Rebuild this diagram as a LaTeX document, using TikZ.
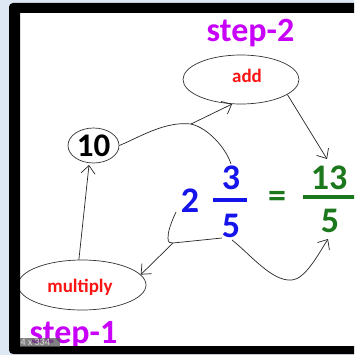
\documentclass[tikz,border=0pt]{standalone}
\usepackage{fontspec}
\setmainfont{Carlito}
\usetikzlibrary{shapes.geometric,arrows.meta}
\definecolor{bgblue}{RGB}{221,232,244}
\definecolor{stepcol}{RGB}{200,0,250}
\definecolor{numblue}{RGB}{20,20,235}
\definecolor{numgreen}{RGB}{28,120,28}
\definecolor{lblred}{RGB}{250,20,20}
\tikzset{
  oval/.style={ellipse, draw=black!80, line width=0.7pt, inner sep=0pt},
  steplbl/.style={text=stepcol, font=\bfseries\fontsize{34}{34}\selectfont, inner sep=0pt},
  lbl/.style={text=lblred, font=\bfseries\fontsize{19}{19}\selectfont, inner sep=0pt},
  bnum/.style={text=numblue, font=\bfseries\fontsize{36}{36}\selectfont, inner sep=0pt},
  gnum/.style={text=numgreen, font=\bfseries\fontsize{36}{36}\selectfont, inner sep=0pt},
  conn/.style={draw=black!85, line width=0.7pt},
  arr/.style={conn, -{Straight Barb[length=8pt,width=14pt]}},
}
\begin{document}
\begin{tikzpicture}[x=1pt,y=-1pt]
\useasboundingbox (0,0) rectangle (354,355);
\clip (0,0) rectangle (354,355);
\fill[bgblue] (0,0) rectangle (354,355);
\fill[white] (20,13) rectangle (354,346);

% nodes
\node[oval, minimum width=116pt, minimum height=49pt] (add) at (241,79.5) {};
\node[lbl, anchor=base] (addt) at (247,83) {add};
\node[oval, minimum width=128pt, minimum height=50pt] (mult) at (82,285) {};
\node[lbl, anchor=base] (multt) at (80,292) {multiply};
\node[oval, minimum width=51pt, minimum height=35pt, font=\bfseries\fontsize{33}{33}\selectfont] (ten) at (93.5,145.5) {10};

\node[steplbl, anchor=base] (s2) at (250.5,42) {step-2};
\node[steplbl, anchor=base] (s1) at (73.5,343) {step-1};

\node[bnum] (two) at (190,201) {2};
\node[bnum] (three) at (231,178) {3};
\node[bnum] (five) at (231,226) {5};
\draw[numblue, line width=3.5pt] (213,200) -- (247,200);
\node[gnum] (eq) at (277,199) {=};
\node[gnum] (thirteen) at (329,178) {13};
\node[gnum] (gfive) at (330,221) {5};
\draw[numgreen, line width=3.5pt] (303,197) -- (360,197);

% junctions / free ends
\coordinate (j1) at (191,124);
\coordinate (j2) at (173,243);
\coordinate (tenb) at (89,165);
\coordinate (t13) at (327,159);
\coordinate (g5b) at (328,239);
\coordinate (twob) at (176,212);
\coordinate (fivel) at (222,238);
\coordinate (fiveb) at (232,240);
\coordinate (threet) at (231,164);

% connectors
\draw[arr] (mult.97) -- (tenb);
\draw[conn] (ten.east) .. controls (140,137) and (165,121) .. (j1);
\draw[conn] (threet) .. controls (226,148) and (208,128) .. (j1);
\draw[arr] (j1) -- (add.-110);
\draw[arr] (add.-18) -- (t13);
\draw[conn] (twob) .. controls (170,225) and (168,232) .. (168,238) .. controls (168,243) and (170,243) .. (j2) -- (fivel);
\draw[arr] (j2) -- (mult.10);
\draw[arr] (fiveb) .. controls (250,254) and (272,282) .. (292,280) .. controls (305,279) and (318,255) .. (g5b);

% frame
\fill[black, even odd rule] [rounded corners=4pt] (9,3) rectangle (380,354) [sharp corners] (20,13) rectangle (370,346);

% watermark
\fill[black!65, opacity=0.75] (20,338) rectangle (60,347);
\node[text=white!85!black, font=\fontsize{10}{10}\selectfont, inner sep=0pt, anchor=west] (wm) at (20.5,342.5) {4 x 334};
\end{tikzpicture}
\end{document}
